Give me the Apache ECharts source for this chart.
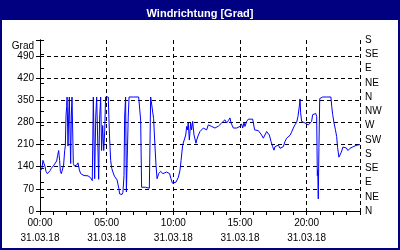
<!DOCTYPE html>
<html><head><meta charset="utf-8">
<script src="https://cdn.jsdelivr.net/npm/echarts@6/dist/echarts.min.js"></script>
<style>html,body{margin:0;padding:0;background:#fff}#c{width:400px;height:250px}</style>
</head><body><div id="c"></div>
<script>
const chartTitle = 'Windrichtung [Grad]';
const unitLabel = 'Grad';
const dateLabel = '31.03.18';
const timeLabels = ['00:00', '05:00', '10:00', '15:00', '20:00'];
const dirLabels = ['N', 'NE', 'E', 'SE', 'S', 'SW', 'W', 'NW', 'N', 'NE', 'E', 'SE', 'S'];

const hours = [0.00,0.08,0.15,0.22,0.30,0.38,0.45,0.55,0.65,0.75,0.85,0.95,1.05,1.15,1.25,1.32,1.40,1.47,1.53,1.60,1.70,1.77,1.85,1.90,
1.95,2.00,2.03,2.07,2.10,2.15,2.20,2.25,2.30,2.35,2.40,2.45,2.50,2.58,2.65,2.75,2.85,2.95,3.05,3.15,3.30,3.45,3.60,3.70,3.80,3.92,
4.00,4.05,4.10,4.18,4.25,4.32,4.40,4.47,4.55,4.62,4.70,4.78,4.85,4.92,5.05,5.12,5.17,5.22,5.30,5.38,5.47,5.58,5.68,5.78,5.85,5.92,5.97,6.05,6.15,6.22,
6.30,6.35,6.42,6.48,6.55,6.62,6.68,6.80,7.00,7.20,7.40,7.50,7.55,7.62,7.75,7.90,8.05,8.20,8.30,8.42,8.52,8.62,8.70,8.78,
8.90,9.05,9.22,9.35,9.50,9.62,9.72,9.82,9.93,10.05,10.20,10.38,10.50,10.58,10.70,10.80,10.93,11.00,11.05,11.12,11.20,11.30,11.37,11.45,11.55,11.70,11.75,11.88,
12.00,12.12,12.25,12.38,12.50,12.62,12.75,12.88,13.00,13.12,13.25,13.38,13.50,13.62,13.75,13.87,14.00,14.12,14.25,14.33,14.45,14.50,14.62,14.75,14.87,
15.00,15.12,15.20,15.30,15.37,15.50,15.62,15.75,15.95,16.10,16.37,16.50,16.62,16.75,16.87,17.00,17.12,17.20,17.33,17.45,17.55,17.62,17.75,17.88,
18.00,18.12,18.25,18.37,18.50,18.62,18.75,18.87,19.00,19.12,19.25,19.35,19.45,19.50,19.55,19.62,19.75,19.87,20.00,20.12,20.25,20.37,20.45,20.55,20.68,20.75,
20.80,20.83,20.87,20.92,20.98,21.00,21.20,21.50,21.82,21.88,21.95,22.05,22.15,22.25,22.32,22.42,22.50,22.60,22.72,22.85,22.97,23.10,23.25,23.45,23.70,24.00];

const degrees = [125,122,135,160,158,140,125,118,122,127,135,141,145,150,158,175,191,160,125,118,120,145,190,205,
300,330,360,360,205,300,360,360,150,300,360,360,150,142,140,145,152,130,118,115,112,112,111,115,105,96,
360,360,102,297,360,360,100,290,360,191,270,191,250,360,360,360,292,230,160,135,123,110,105,98,96,70,54,50,52,59,
112,300,360,60,65,300,360,360,360,360,360,360,287,75,78,75,74,72,360,360,292,207,144,102,
118,125,118,121,123,128,118,102,88,84,91,107,129,160,208,214,240,267,256,278,224,278,256,283,240,214,224,240,
251,256,262,267,256,272,278,267,272,262,267,268,272,278,280,288,278,285,294,278,272,262,264,262,256,
267,275,262,278,267,283,290,288,290,256,254,250,240,230,240,251,256,240,219,203,192,203,198,208,
198,192,203,219,230,235,239,249,262,272,280,299,331,354,310,283,280,278,276,272,270,283,304,310,308,299,
112,130,38,200,355,360,360,360,360,330,305,278,258,235,200,170,167,186,202,207,199,191,198,202,207,210];

const font = 'Liberation Sans';
const navy = '#000080';
const seriesData = hours.map((h, i) => [h, degrees[i]]);

const chart = echarts.init(document.getElementById('c'), null, { renderer: 'canvas' });
chart.setOption({
  animation: false,
  backgroundColor: '#fff',
  title: {
    text: chartTitle, left: 'center', top: 3,
    textStyle: { color: '#fff', fontSize: 11, fontWeight: 'bold', fontFamily: font }
  },
  graphic: [
    { type: 'rect', shape: { x: 0, y: 0, width: 400, height: 20 }, style: { fill: navy }, z: -1 },
    { type: 'rect', shape: { x: 0, y: 0, width: 2, height: 250 }, style: { fill: navy } },
    { type: 'rect', shape: { x: 398, y: 0, width: 2, height: 250 }, style: { fill: navy } },
    { type: 'rect', shape: { x: 0, y: 248, width: 400, height: 2 }, style: { fill: navy } }
  ],
  grid: { left: 40, right: 40, top: 40, bottom: 39 },
  xAxis: [
    {
      type: 'value', min: 0, max: 24, interval: 5, position: 'bottom',
      axisLine: { show: true, lineStyle: { color: '#000', width: 1 } },
      axisTick: { show: false },
      axisLabel: {
        color: '#000', fontSize: 10, fontFamily: font, margin: 5, lineHeight: 15,
        formatter: v => (v % 5 === 0 && v < 24) ? timeLabels[v / 5] + '\n' + dateLabel : ''
      },
      splitLine: { show: true, lineStyle: { color: '#000', width: 1, type: [4, 3] } }
    },
    {
      type: 'value', min: 0, max: 24, interval: 1, position: 'bottom',
      axisLine: { show: false },
      axisTick: { show: true, length: 4, lineStyle: { color: '#000' } },
      axisLabel: { show: false },
      splitLine: { show: false }
    }
  ],
  yAxis: [
    {
      type: 'value', min: 0, max: 540, interval: 70, position: 'left',
      name: unitLabel, nameLocation: 'end', nameGap: -6,
      nameTextStyle: { color: '#000', fontSize: 10, fontFamily: font, align: 'right', verticalAlign: 'middle', padding: [0, 6, 0, 0] },
      axisLine: { show: true, lineStyle: { color: '#000', width: 1 } },
      axisTick: { show: true, length: 4, lineStyle: { color: '#000' } },
      axisLabel: { color: '#000', fontSize: 10, fontFamily: font, margin: 6, formatter: v => v > 490 ? '' : String(v) },
      splitLine: { show: true, showMaxLine: false, lineStyle: { color: '#000', width: 1, type: [4, 3] } }
    },
    {
      type: 'value', min: 0, max: 540, interval: 45, position: 'right',
      axisLine: { show: true, lineStyle: { color: '#000', width: 1 } },
      axisTick: { show: true, length: 4, lineStyle: { color: '#000' } },
      axisLabel: { color: '#000', fontSize: 10, fontFamily: font, margin: 5, formatter: v => dirLabels[Math.round(v / 45)] },
      splitLine: { show: false }
    }
  ],
  series: [{
    type: 'line', xAxisIndex: 0, yAxisIndex: 0, data: seriesData,
    showSymbol: false, symbol: 'none',
    lineStyle: { color: '#0000ff', width: 1 }
  }]
});
</script></body></html>
